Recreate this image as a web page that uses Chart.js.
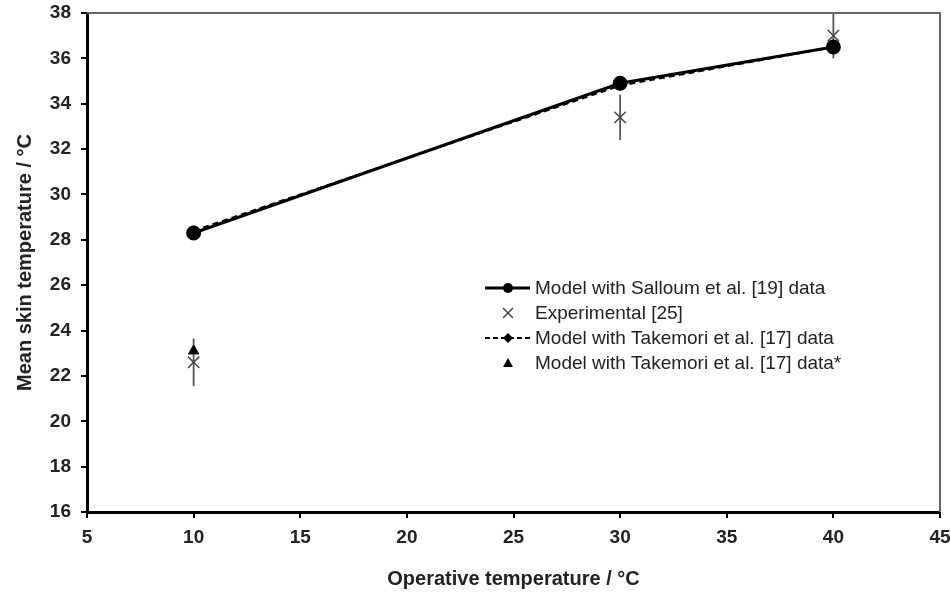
<!DOCTYPE html>
<html>
<head>
<meta charset="utf-8">
<script src="https://cdn.jsdelivr.net/npm/chart.js@4.4.1/dist/chart.umd.min.js"></script>
<style>
  html, body { margin: 0; padding: 0; background: #fff; }
  #wrap { width: 951px; height: 595px; }
</style>
</head>
<body>
<div id="wrap"><canvas id="skinChart" width="951" height="595"></canvas></div>
<script>
// operative temperature (x) and mean skin temperature (y) values
const opTemps = [10, 30, 40];
const sallounModel = [28.3, 34.9, 36.5];
const takemoriModel = [28.4, 34.8, 36.5];
const expTemps = [10, 30, 40];
const expValues = [22.6, 33.4, 37.0];
const expErrors = [1.05, 1.0, 1.0];
const takemoriStarX = [10];
const takemoriStarY = [23.1];

const xTicks = [5, 10, 15, 20, 25, 30, 35, 40, 45];
const yTicks = [16, 18, 20, 22, 24, 26, 28, 30, 32, 34, 36, 38];

const FONT = 'Liberation Sans, Arial, Helvetica, sans-serif';
const pts = (xs, ys) => xs.map((x, i) => ({ x: x, y: ys[i] }));

// vertical error bars for the experimental points
const errorBars = {
    id: 'errorBars',
    beforeDatasetsDraw(chart) {
        const { ctx, chartArea, scales: { x, y } } = chart;
        ctx.save();
        ctx.beginPath();
        ctx.rect(chartArea.left, chartArea.top, chartArea.right - chartArea.left, chartArea.bottom - chartArea.top);
        ctx.clip();
        ctx.strokeStyle = '#555';
        ctx.lineWidth = 1.8;
        expTemps.forEach((t, i) => {
            const px = x.getPixelForValue(t);
            ctx.beginPath();
            ctx.moveTo(px, y.getPixelForValue(expValues[i] + expErrors[i]));
            ctx.lineTo(px, y.getPixelForValue(expValues[i] - expErrors[i]));
            ctx.stroke();
        });
        ctx.restore();
    }
};

// gray top / right frame plus the legend in the plot area
const frameAndLegend = {
    id: 'frameAndLegend',
    afterDraw(chart) {
        const { ctx, chartArea: a } = chart;
        ctx.save();
        ctx.strokeStyle = '#666';
        ctx.lineWidth = 2;
        ctx.beginPath();
        ctx.moveTo(a.left, a.top);
        ctx.lineTo(a.right, a.top);
        ctx.lineTo(a.right, a.bottom);
        ctx.stroke();

        const lx = 485, sx = 508, tx = 535;
        const rows = [288, 313, 338, 363];
        ctx.font = '19px ' + FONT;
        ctx.textBaseline = 'middle';
        chart.data.datasets.forEach((ds, i) => {
            const ry = rows[i];
            ctx.fillStyle = '#222';
            ctx.fillText(ds.label, tx, ry + 1);
            ctx.strokeStyle = '#000';
            ctx.fillStyle = '#000';
            if (i === 0) {
                ctx.lineWidth = 3;
                ctx.beginPath(); ctx.moveTo(lx, ry); ctx.lineTo(lx + 45, ry); ctx.stroke();
                ctx.beginPath(); ctx.arc(sx, ry, 5, 0, Math.PI * 2); ctx.fill();
            } else if (i === 1) {
                ctx.strokeStyle = '#444';
                ctx.lineWidth = 1.5;
                ctx.beginPath();
                ctx.moveTo(sx - 5, ry - 5); ctx.lineTo(sx + 5, ry + 5);
                ctx.moveTo(sx + 5, ry - 5); ctx.lineTo(sx - 5, ry + 5);
                ctx.stroke();
            } else if (i === 2) {
                ctx.lineWidth = 2;
                ctx.setLineDash([5, 3]);
                ctx.beginPath(); ctx.moveTo(lx, ry); ctx.lineTo(lx + 45, ry); ctx.stroke();
                ctx.setLineDash([]);
                ctx.beginPath();
                ctx.moveTo(sx, ry - 5); ctx.lineTo(sx + 5, ry); ctx.lineTo(sx, ry + 5); ctx.lineTo(sx - 5, ry);
                ctx.closePath(); ctx.fill();
            } else {
                ctx.beginPath();
                ctx.moveTo(sx, ry - 5); ctx.lineTo(sx + 5, ry + 4); ctx.lineTo(sx - 5, ry + 4);
                ctx.closePath(); ctx.fill();
            }
        });
        ctx.restore();
    }
};

new Chart(document.getElementById('skinChart'), {
    type: 'scatter',
    data: {
        datasets: [
            {
                label: 'Model with Salloum et al. [19] data',
                data: pts(opTemps, sallounModel),
                showLine: true,
                borderColor: '#000',
                backgroundColor: '#000',
                borderWidth: 3,
                pointRadius: 6,
                pointStyle: 'circle',
                order: 1
            },
            {
                label: 'Experimental [25]',
                data: pts(expTemps, expValues),
                showLine: false,
                borderColor: '#444',
                backgroundColor: '#444',
                pointStyle: 'crossRot',
                pointRadius: 8,
                pointBorderWidth: 1.5,
                order: 3
            },
            {
                label: 'Model with Takemori et al. [17] data',
                data: pts(opTemps, takemoriModel),
                showLine: true,
                borderColor: '#000',
                backgroundColor: '#000',
                borderWidth: 2,
                borderDash: [6, 4],
                pointStyle: 'rectRot',
                pointRadius: 4,
                order: 2
            },
            {
                label: 'Model with Takemori et al. [17] data*',
                data: pts(takemoriStarX, takemoriStarY),
                showLine: false,
                borderColor: '#000',
                backgroundColor: '#000',
                pointStyle: 'triangle',
                pointRadius: 6,
                order: 0
            }
        ]
    },
    options: {
        responsive: false,
        animation: false,
        layout: { padding: { top: 13, right: 11, left: 0, bottom: 0 } },
        plugins: {
            legend: { display: false },
            tooltip: { enabled: false }
        },
        scales: {
            x: {
                type: 'linear',
                min: 5, max: 45,
                afterBuildTicks: (s) => { s.ticks = xTicks.map(v => ({ value: v })); },
                afterFit: (s) => { s.height = 83; s.paddingLeft = 0; s.paddingRight = 0; },
                grid: { drawOnChartArea: false, color: '#000', lineWidth: 2, tickLength: 6 },
                border: { color: '#000', width: 3 },
                ticks: { color: '#222', padding: 8, font: { family: FONT, size: 19, weight: 'bold' } },
                title: {
                    display: true,
                    text: 'Operative temperature / °C',
                    color: '#222',
                    padding: { top: 0, bottom: 4 },
                    font: { family: FONT, size: 20, weight: 'bold' }
                }
            },
            y: {
                type: 'linear',
                min: 16, max: 38,
                afterBuildTicks: (s) => { s.ticks = yTicks.map(v => ({ value: v })); },
                afterFit: (s) => { s.width = 87; s.paddingTop = 0; s.paddingBottom = 0; },
                grid: { drawOnChartArea: false, color: '#000', lineWidth: 2, tickLength: 6 },
                border: { color: '#000', width: 3 },
                ticks: { color: '#222', padding: 10, font: { family: FONT, size: 19, weight: 'bold' } },
                title: {
                    display: true,
                    text: 'Mean skin temperature / °C',
                    color: '#222',
                    padding: { top: 13, bottom: 0 },
                    font: { family: FONT, size: 20, weight: 'bold' }
                }
            }
        }
    },
    plugins: [errorBars, frameAndLegend]
});
</script>
</body>
</html>
